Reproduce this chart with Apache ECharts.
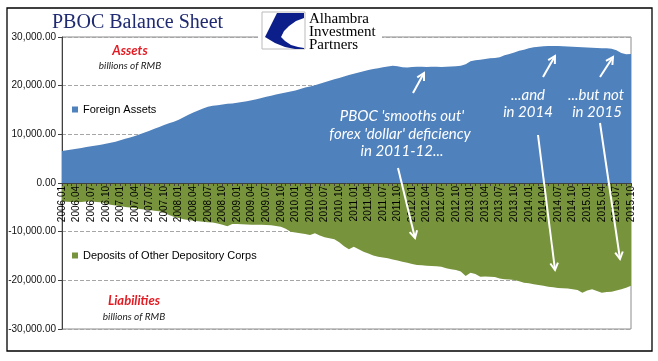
<!DOCTYPE html>
<html><head><meta charset="utf-8">
<script src="https://cdn.jsdelivr.net/npm/echarts@6/dist/echarts.min.js"></script>
<style>html,body{margin:0;padding:0;background:#fff}#c{width:658px;height:361px}</style>
</head><body><div id="c"></div>
<script>
const categories = [
'2006.01','2006.02','2006.03','2006.04','2006.05','2006.06','2006.07','2006.08','2006.09','2006.10','2006.11','2006.12',
'2007.01','2007.02','2007.03','2007.04','2007.05','2007.06','2007.07','2007.08','2007.09','2007.10','2007.11','2007.12',
'2008.01','2008.02','2008.03','2008.04','2008.05','2008.06','2008.07','2008.08','2008.09','2008.10','2008.11','2008.12',
'2009.01','2009.02','2009.03','2009.04','2009.05','2009.06','2009.07','2009.08','2009.09','2009.10','2009.11','2009.12',
'2010.01','2010.02','2010.03','2010.04','2010.05','2010.06','2010.07','2010.08','2010.09','2010.10','2010.11','2010.12',
'2011.01','2011.02','2011.03','2011.04','2011.05','2011.06','2011.07','2011.08','2011.09','2011.10','2011.11','2011.12',
'2012.01','2012.02','2012.03','2012.04','2012.05','2012.06','2012.07','2012.08','2012.09','2012.10','2012.11','2012.12',
'2013.01','2013.02','2013.03','2013.04','2013.05','2013.06','2013.07','2013.08','2013.09','2013.10','2013.11','2013.12',
'2014.01','2014.02','2014.03','2014.04','2014.05','2014.06','2014.07','2014.08','2014.09','2014.10','2014.11','2014.12',
'2015.01','2015.02','2015.03','2015.04','2015.05','2015.06','2015.07','2015.08','2015.09','2015.10'];

const foreignAssets = [
6600,6750,6900,7050,7200,7400,7550,7700,7850,8050,8250,8500,
8800,9100,9350,9650,10000,10400,10750,11150,11500,11900,12300,12600,
13000,13500,14000,14500,14900,15300,15650,15850,16000,16150,16300,16350,
16500,16650,16800,17000,17200,17450,17700,17950,18200,18400,18600,18800,
19000,19300,19600,19850,20100,20400,20700,21000,21300,21600,21900,22200,
22450,22700,22950,23200,23400,23600,23800,23950,24100,24000,23800,23750,
23850,23900,23900,23850,23900,23900,23850,23900,23950,24000,24100,24400,
25000,25200,25350,25500,25650,25700,25850,26250,26500,26800,27200,27400,
27700,27900,28000,28100,28150,28150,28150,28100,28050,28000,27950,27900,
27850,27800,27750,27700,27700,27600,27300,26700,26450,26500];

const depositsODC = [
-3800,-3850,-3900,-3970,-3900,-3800,-3770,-3900,-3970,-4200,-4450,-4600,
-4750,-4930,-5050,-5150,-5340,-5450,-5550,-5700,-5820,-6100,-6600,-6950,
-7200,-7450,-7600,-7750,-7880,-7950,-8050,-8100,-8300,-8560,-8900,-8400,
-8450,-8500,-8550,-8560,-8580,-8600,-8630,-8700,-8850,-8970,-9400,-10000,
-10150,-10300,-10500,-10690,-10350,-10800,-11150,-11350,-11560,-12200,-13000,-13630,
-13080,-13600,-14110,-14500,-14900,-15140,-15300,-15480,-15700,-15950,-16160,-16400,
-16650,-16850,-16900,-17000,-17050,-17100,-17190,-17500,-17700,-17880,-18200,-19110,
-18430,-18700,-19250,-19200,-19250,-19300,-19600,-19800,-19850,-19930,-20200,-20480,
-20600,-20800,-20960,-21100,-21300,-21440,-21550,-21650,-21700,-21850,-22000,-22530,
-22100,-21850,-22200,-22530,-22400,-22330,-22100,-21850,-21500,-21100];

const yTicks = [-30000,-20000,-10000,0,10000,20000,30000];
const seriesNames = ['Foreign Assets','Deposits of Other Depository Corps'];
const colors = ['#4F81BD','#77933C'];

function arrow(x1,y1,x2,y2){
  const a=Math.atan2(y2-y1,x2-x1), L=8, w=0.5;
  return [
    {type:'line',z:100,shape:{x1:x1,y1:y1,x2:x2,y2:y2},style:{stroke:'#fff',lineWidth:2}},
    {type:'polyline',z:100,shape:{points:[[x2-L*Math.cos(a-w),y2-L*Math.sin(a-w)],[x2,y2],[x2-L*Math.cos(a+w),y2-L*Math.sin(a+w)]]},style:{stroke:'#fff',lineWidth:2,fill:null}}
  ];
}
function txt(t,x,y,font,fill,align){
  return {type:'text',z:100,style:{text:t,x:x,y:y,font:font,fill:fill,textAlign:align||'center',textVerticalAlign:'middle'}};
}

const annoFont = 'italic 15px Lato';
const logoShape = [[277,13],[304,13],[304,18],[296,21],[289,26],[284,31],[281,37],[285,41],[291,45],[298,47],[304,48],[304,49],[295,49],[285,47],[275,43],[265,37]];
const graphics = [
  {type:'rect',z:0,shape:{x:7,y:8,width:645,height:343},style:{stroke:'#000',lineWidth:1.3,fill:null}},
  txt('PBOC Balance Sheet',52,23,'20px "Liberation Serif"','#1F2A70','left'),
  {type:'rect',z:99,shape:{x:258,y:10,width:124,height:42},style:{fill:'#fff'}},
  {type:'rect',z:100,shape:{x:262,y:12,width:43,height:37},style:{fill:'#fff',stroke:'#BBBBBB',lineWidth:1}},
  {type:'polygon',z:101,shape:{points:logoShape},style:{fill:'#0B1E8A'}},
  txt('Alhambra',309,19,'15px "Liberation Serif"','#000','left'),
  txt('Investment',309,32,'15px "Liberation Serif"','#000','left'),
  txt('Partners',309,45,'15px "Liberation Serif"','#000','left'),
  txt('Assets',130,51,'bold italic 13px Lato','#E31B23'),
  txt('billions of RMB',130,66,'italic 10px Lato','#222'),
  txt('Liabilities',134,301,'bold italic 13px Lato','#E31B23'),
  txt('billions of RMB',134,317,'italic 10px Lato','#222'),
  txt("PBOC 'smooths out'",402,116,annoFont,'#fff'),
  txt("forex 'dollar' deficiency",400,134,annoFont,'#fff'),
  txt('in 2011-12...',402,151,annoFont,'#fff'),
  txt('...and',528,95,annoFont,'#fff'),
  txt('in 2014',528,112,annoFont,'#fff'),
  txt('...but not',596,95,annoFont,'#fff'),
  txt('in 2015',597,112,annoFont,'#fff')
].concat(arrow(413,93,424,73), arrow(543,77,555,56), arrow(600,77,613,57),
         arrow(398,168,415,238), arrow(538,135,555,270), arrow(600,123,620,259));

const chart = echarts.init(document.getElementById('c'), null, {renderer:'canvas'});
chart.setOption({
  animation:false,
  backgroundColor:'#fff',
  color:colors,
  grid:{left:62,right:27,top:37,bottom:32,show:true,borderColor:'#8C8C8C',borderWidth:1,containLabel:false,outerBoundsMode:'none'},
  legend:[
    {data:[seriesNames[0]],left:72,top:104,icon:'rect',itemWidth:6,itemHeight:6,textStyle:{fontFamily:'Liberation Sans',fontSize:11,color:'#000'},padding:0},
    {data:[seriesNames[1]],left:72,top:250,icon:'rect',itemWidth:6,itemHeight:6,textStyle:{fontFamily:'Liberation Sans',fontSize:11,color:'#000'},padding:0}
  ],
  xAxis:{
    type:'category',data:categories,boundaryGap:false,position:'bottom',offset:-146,z:10,
    axisLine:{onZero:false,lineStyle:{color:'#404040',width:1}},
    axisTick:{show:true,interval:0,length:3,inside:false,lineStyle:{color:'#404040'}},
    axisLabel:{interval:2,rotate:90,fontFamily:'Liberation Sans',fontSize:10,color:'#000',margin:3},
    splitLine:{show:false}
  },
  yAxis:{
    type:'value',min:yTicks[0],max:yTicks[yTicks.length-1],interval:10000,
    axisLine:{show:true,lineStyle:{color:'#404040'}},
    axisTick:{show:true,length:4,lineStyle:{color:'#404040'}},
    axisLabel:{fontFamily:'Liberation Sans',fontSize:10,color:'#111',margin:6,
      formatter:function(v){return v.toLocaleString('en-US',{minimumFractionDigits:2,maximumFractionDigits:2});}},
    splitLine:{show:true,lineStyle:{color:'#A6A6A6',type:'dashed',width:1}}
  },
  series:[
    {name:seriesNames[0],type:'line',data:foreignAssets,symbol:'none',lineStyle:{width:0},areaStyle:{color:colors[0],opacity:1},z:2},
    {name:seriesNames[1],type:'line',data:depositsODC,symbol:'none',lineStyle:{width:0},areaStyle:{color:colors[1],opacity:1},z:2}
  ],
  graphic:{elements:graphics}
});
</script></body></html>
